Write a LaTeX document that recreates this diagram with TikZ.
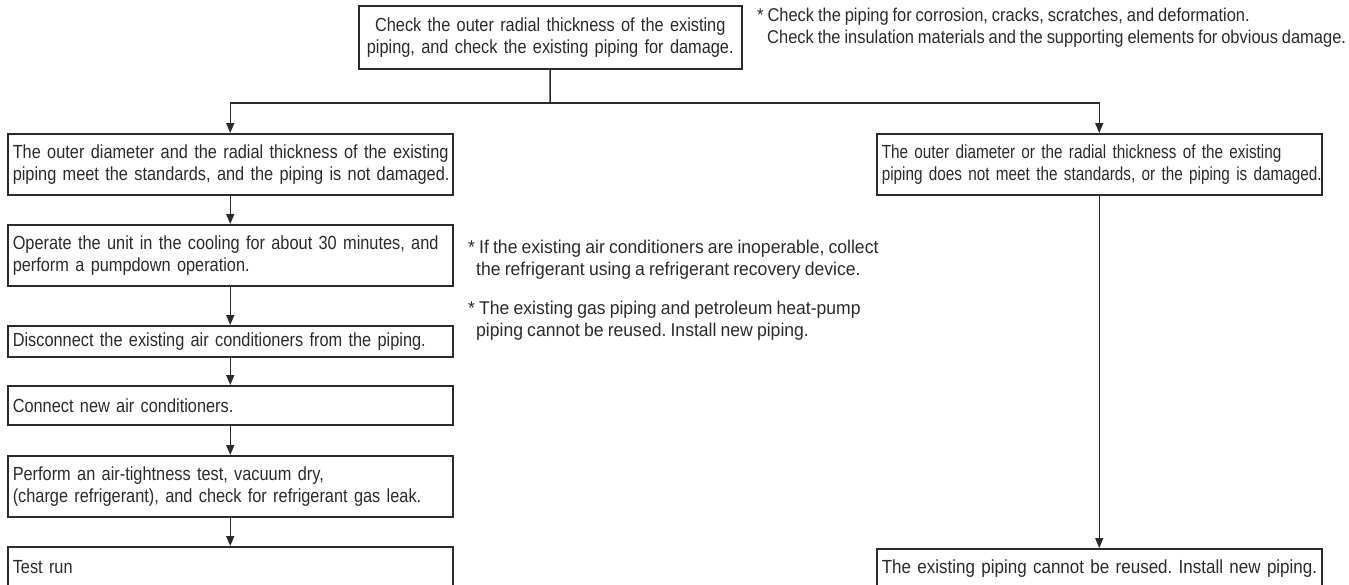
\documentclass[tikz,border=0pt]{standalone}
\usepackage{fontspec}
\setmainfont{Liberation Sans}[FakeStretch=0.86, WordSpace=0.85]
\newfontfamily\ronefont{Liberation Sans}[FakeStretch=0.805, WordSpace=0.85]
\newfontfamily\rtwofont{Liberation Sans}[FakeStretch=0.895, WordSpace=0.85]
\newfontfamily\midnotefont{Liberation Sans}[FakeStretch=0.95, WordSpace=0.85]
\newfontfamily\topnotefont{Liberation Sans}[FakeStretch=0.89, WordSpace=0.85]
\usetikzlibrary{arrows.meta}
\definecolor{ink}{HTML}{2B2B2B}
\newcommand\boxfont{\fontsize{19}{22}\selectfont}
\newcommand\notefont{\fontsize{18.5}{22}\selectfont}
\frenchspacing
\begin{document}
\begin{tikzpicture}[x=1pt,y=-1pt,
  stepbox/.style={draw=ink, line width=1.5pt, rectangle, anchor=north west,
    inner xsep=5pt, inner ysep=0pt, align=left, font=\boxfont, text=ink,
    minimum width=445pt, text width=435pt},
  topbox/.style={draw=ink, line width=1.5pt, rectangle, anchor=north west,
    inner xsep=4pt, inner ysep=0pt, align=center, font=\boxfont, text=ink,
    minimum width=383pt, text width=375pt, minimum height=63pt},
  note/.style={anchor=north west, inner sep=0pt, align=left, font=\notefont, text=ink},
  arr/.style={draw=ink, line width=1.5pt, -{Triangle[length=10pt,width=8pt]}},
  ln/.style={draw=ink, line width=1.5pt}]
\useasboundingbox (0,0) rectangle (1349,584);
\clip (0,0) rectangle (1349,584);
\fill[white] (0,0) rectangle (1349,584);

\node[topbox] (top) at (358,5) {\mbox{Check the outer radial thickness of the existing}\\\mbox{piping, and check the existing piping for damage.}};

\node[stepbox, minimum height=61pt] (l1) at (7,133) {\mbox{The outer diameter and the radial thickness of the existing}\\\mbox{piping meet the standards, and the piping is not damaged.}};
\node[stepbox, minimum height=61pt] (l2) at (7,224) {\mbox{Operate the unit in the cooling for about 30 minutes, and}\\\mbox{perform a pumpdown operation.}};
\node[stepbox, minimum height=31pt] (l3) at (7,325) {\mbox{Disconnect the existing air conditioners from the piping.}};
\node[stepbox, minimum height=39pt] (l4) at (7,385) {Connect new air conditioners.};
\node[stepbox, minimum height=61pt] (l5) at (7,455) {\mbox{Perform an air-tightness test, vacuum dry,}\\\mbox{(charge refrigerant), and check for refrigerant gas leak.}};
\node[stepbox, minimum height=40pt] (l6) at (7,546) {Test run};

\node[stepbox, minimum height=61pt, font=\boxfont\ronefont] (r1) at (876,133) {\mbox{The outer diameter or the radial thickness of the existing}\\\mbox{piping does not meet the standards, or the piping is damaged.}};
\node[stepbox, minimum height=40pt, font=\boxfont\rtwofont] (r2) at (876,548) {\mbox{The existing piping cannot be reused. Install new piping.}};

\coordinate (j) at (550,103);
\draw[ln] (top.south) -- (j);
\draw[arr] (j) -| (l1.north);
\draw[arr] (j) -| (r1.north);
\draw[arr] (l1) -- (l2);
\draw[arr] (l2) -- (l3);
\draw[arr] (l3) -- (l4);
\draw[arr] (l4) -- (l5);
\draw[arr] (l5) -- (l6);
\draw[arr] (r1) -- (r2);

\node[note, font=\notefont\topnotefont] (n1) at (757,8) {\mbox{* Check the piping for corrosion, cracks, scratches, and deformation.}\\\mbox{\hspace*{10pt}Check the insulation materials and the supporting elements for obvious damage.}};
\node[note, font=\notefont\midnotefont] (n2) at (468,240) {\mbox{* If the existing air conditioners are inoperable, collect}\\\mbox{\hspace*{8pt}the refrigerant using a refrigerant recovery device.}};
\node[note, font=\notefont\midnotefont] (n3) at (468,301) {\mbox{* The existing gas piping and petroleum heat-pump}\\\mbox{\hspace*{8pt}piping cannot be reused. Install new piping.}};
\end{tikzpicture}
\end{document}
